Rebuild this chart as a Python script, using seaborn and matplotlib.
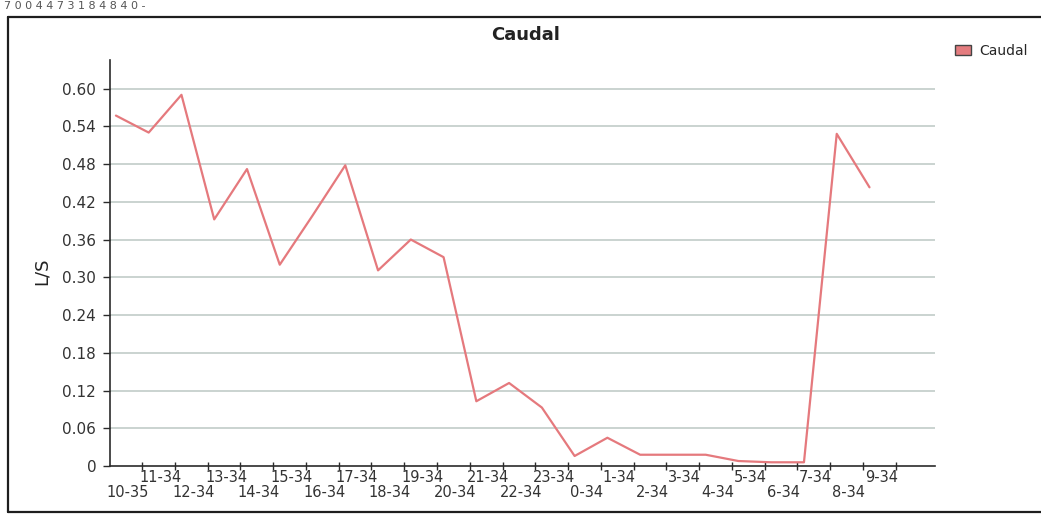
import matplotlib
matplotlib.use("Agg")
import matplotlib.pyplot as plt
from matplotlib.lines import Line2D
from matplotlib.patches import Patch
import numpy as np
import pandas as pd
import seaborn as sns

# hour labels along the x axis (hour-minute of reading)
categories = [
    "10-35", "11-34", "12-34", "13-34", "14-34", "15-34", "16-34", "17-34",
    "18-34", "19-34", "20-34", "21-34", "22-34", "23-34", "0-34", "1-34",
    "2-34", "3-34", "4-34", "5-34", "6-34", "7-34", "8-34", "9-34",
]
# flow in L/S
caudal = [
    0.557, 0.530, 0.590, 0.392, 0.472, 0.320, 0.398, 0.478,
    0.311, 0.360, 0.332, 0.103, 0.132, 0.093, 0.016, 0.045,
    0.018, 0.018, 0.018, 0.008, 0.006, 0.006, 0.528, 0.443,
]
y_ticks = [0, 0.06, 0.12, 0.18, 0.24, 0.30, 0.36, 0.42, 0.48, 0.54, 0.60]
y_tick_labels = ["0", "0.06", "0.12", "0.18", "0.24", "0.30", "0.36",
                 "0.42", "0.48", "0.54", "0.60"]

LINE_COLOR = "#e5797d"
GRID_COLOR = "#bcc7c3"
AXIS_COLOR = "#2b2b2b"

df = pd.DataFrame({"pos": np.arange(len(categories)), "caudal": caudal})

sns.set_theme(style="white")
plt.rcParams["font.family"] = ["DejaVu Sans"]

fig = plt.figure(figsize=(10.41, 5.19), dpi=100)
ax = fig.add_axes([0.1057, 0.102, 0.7925, 0.782])

sns.lineplot(data=df, x="pos", y="caudal", color=LINE_COLOR, linewidth=1.6, ax=ax)

ax.set_xlim(-0.18, 25)
ax.set_ylim(0, 0.645)

# horizontal grid
for v in y_ticks[1:]:
    ax.axhline(v, color=GRID_COLOR, linewidth=1.1, zorder=0)

ax.set_yticks(y_ticks)
ax.set_yticklabels(y_tick_labels, fontsize=11, color="#333333")
ax.tick_params(axis="y", length=5, width=1, color=AXIS_COLOR, pad=5, left=True)

# tick marks sit between the points; labels a bit right of each point, in two staggered rows
ax.set_xticks(np.arange(len(categories)) + 0.8)
ax.set_xticklabels([])
ax.tick_params(axis="x", which="major", direction="inout", length=6, width=1,
               color=AXIS_COLOR, bottom=True)
xform = ax.get_xaxis_transform()
for i, lab in enumerate(categories):
    row_y = -0.046 if i % 2 == 0 else -0.009
    ax.text(i + 0.36, row_y, lab, transform=xform, ha="center", va="top",
            fontsize=10.5, color="#333333")

for side in ["top", "right"]:
    ax.spines[side].set_visible(False)
for side in ["left", "bottom"]:
    ax.spines[side].set_color(AXIS_COLOR)
    ax.spines[side].set_linewidth(1.2)

ax.set_xlabel("")
ax.set_ylabel("L/S", fontsize=13, color="#222222")
ax.yaxis.set_label_coords(-0.072, 0.48)

fig.text(0.505, 0.933, "Caudal", ha="center", va="center", fontsize=13,
         fontweight="bold", color="#222222")

legend_handle = Patch(facecolor="#e47c7f", edgecolor="#444444", linewidth=1)
fig.legend([legend_handle], ["Caudal"], loc="center left",
           bbox_to_anchor=(0.905, 0.902), frameon=False, fontsize=10,
           handlelength=1.2, handleheight=0.8, handletextpad=0.6)

# outer frame of the chart control
frame_kw = dict(color="#1e1e1e", linewidth=1.6, transform=fig.transFigure)
left, top, bottom = 8 / 1041, 1 - 17 / 519, 1 - 512 / 519
fig.add_artist(Line2D([left, 1.0], [top, top], **frame_kw))
fig.add_artist(Line2D([left, 1.0], [bottom, bottom], **frame_kw))
fig.add_artist(Line2D([left, left], [bottom, top], **frame_kw))

# scanned page number at the very top
fig.text(0.004, 0.999, "7 0 0 4 4 7 3 1 8 4 8 4 0 -", ha="left", va="top",
         fontsize=8, color="#555555")

fig.savefig("out.png", dpi=100)
